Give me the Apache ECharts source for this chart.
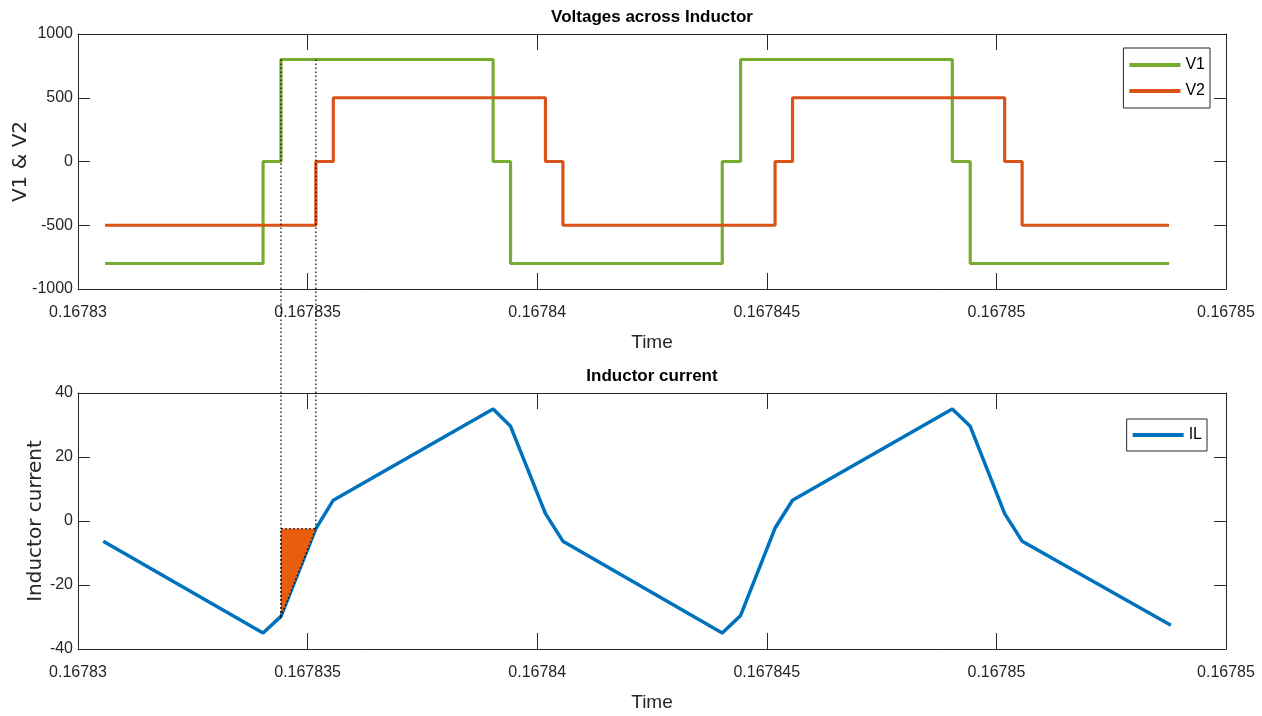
<!DOCTYPE html>
<html><head><meta charset="utf-8">
<script src="https://cdn.jsdelivr.net/npm/echarts@6/dist/echarts.min.js"></script>
<style>html,body{margin:0;padding:0;background:#fff}#c{width:1262px;height:716px}</style>
</head><body><div id="c"></div>
<script>
// Time axis values are microseconds after t0 = 0.16783 s
const xTickLabels = ['0.16783', '0.167835', '0.16784', '0.167845', '0.16785', '0.16785'];
const v1Time = [0.59, 4.03, 4.42, 9.04, 9.42, 14.03, 14.43, 19.04, 19.43, 23.76];
const v1Val  = [-800, 0, 800, 0, -800, 0, 800, 0, -800, -800];
const v2Time = [0.59, 5.18, 5.56, 10.18, 10.56, 15.18, 15.56, 20.18, 20.56, 23.76];
const v2Val  = [-500, 0, 500, 0, -500, 0, 500, 0, -500, -500];
const ilTime = [0.55, 4.03, 4.42, 5.18, 5.56, 9.04, 9.42, 10.18, 10.56, 14.03, 14.43, 15.18, 15.56, 19.04, 19.43, 20.18, 20.56, 23.8];
const ilVal  = [-6.3, -35, -29.8, -2.4, 6.5, 35, 29.6, 2.3, -6.3, -35, -29.5, -2.2, 6.5, 35, 29.6, 2.3, -6.3, -32.6];
// shaded area and dotted guide lines
const markTime = [4.42, 5.18];
const markV = 800;
const markIL = [-29.8, -2.4];
const triTime = [4.42, 4.42, 5.18];
const triVal = [-29.8, -2.4, -2.4];

const FONT = "'Liberation Sans', Arial, sans-serif";
const AXC = '#262626';
const zip = (a, b) => a.map((t, i) => [t, b[i]]);

function xAxes(gi, title) {
  const base = {
    type: 'value', gridIndex: gi, min: 0, max: 25, interval: 5,
    axisLine: { show: true, onZero: false, lineStyle: { color: AXC, width: 1 } },
    axisTick: { show: true, inside: true, length: 16, lineStyle: { color: AXC, width: 1 } },
    splitLine: { show: false }, nameMoveOverlap: false
  };
  return [
    Object.assign({}, base, {
      position: 'bottom',
      axisLabel: { margin: 16, color: AXC, fontFamily: FONT, fontSize: 16,
        formatter: v => xTickLabels[Math.round(v / 5)] },
      name: 'Time', nameLocation: 'middle', nameGap: 44,
      nameTextStyle: { fontFamily: FONT, fontSize: 19, color: AXC }
    }),
    Object.assign({}, base, {
      position: 'top', axisLabel: { show: false },
      name: title, nameLocation: 'middle', nameGap: 8,
      nameTextStyle: { fontFamily: FONT, fontSize: 17, fontWeight: 'bold', color: '#000' }
    })
  ];
}
function yAxes(gi, min, max, interval, name, gap) {
  const base = {
    type: 'value', gridIndex: gi, min: min, max: max, interval: interval,
    axisLine: { show: true, onZero: false, lineStyle: { color: AXC, width: 1 } },
    axisTick: { show: true, inside: true, length: 12, lineStyle: { color: AXC, width: 1 } },
    splitLine: { show: false }, nameMoveOverlap: false
  };
  return [
    Object.assign({}, base, {
      position: 'left',
      axisLabel: { margin: 5, color: AXC, fontFamily: FONT, fontSize: 16, formatter: v => String(v) },
      name: name, nameLocation: 'middle', nameGap: gap, nameRotate: 90,
      nameTextStyle: { fontFamily: "'DejaVu Sans', sans-serif", fontSize: 20, color: AXC }
    }),
    Object.assign({}, base, { position: 'right', axisLabel: { show: false } })
  ];
}

const chart = echarts.init(document.getElementById('c'), null, { renderer: 'canvas' });
const legendText = { fontFamily: FONT, fontSize: 16, color: '#000', lineHeight: 20 };
chart.setOption({
  animation: false,
  backgroundColor: '#fff',
  grid: [
    { left: 78, right: 36, top: 34, height: 255, containLabel: false, outerBoundsMode: 'none' },
    { left: 78, right: 36, top: 393, height: 256, containLabel: false, outerBoundsMode: 'none' }
  ],
  xAxis: xAxes(0, 'Voltages across Inductor').concat(xAxes(1, 'Inductor current')),
  yAxis: yAxes(0, -1000, 1000, 500, 'V1 & V2', 47).concat(yAxes(1, -40, 40, 20, 'Inductor current', 32)),
  legend: [
    { data: ['V1', 'V2'], orient: 'vertical', right: 52, top: 48, padding: [7, 5, 7, 6], itemGap: 6,
      itemWidth: 51, itemHeight: 4, icon: 'rect', borderColor: AXC, borderWidth: 1, borderRadius: 0,
      textStyle: legendText },
    { data: ['IL'], orient: 'vertical', right: 55, top: 419, padding: [6, 5, 6, 6],
      itemWidth: 51, itemHeight: 4, icon: 'rect', borderColor: AXC, borderWidth: 1, borderRadius: 0,
      textStyle: legendText }
  ],
  series: [
    { name: 'V1', type: 'line', xAxisIndex: 0, yAxisIndex: 0, step: 'end', data: zip(v1Time, v1Val),
      showSymbol: false, color: '#77AC30', lineStyle: { width: 3.2, color: '#77AC30' }, z: 3 },
    { name: 'V2', type: 'line', xAxisIndex: 0, yAxisIndex: 0, step: 'end', data: zip(v2Time, v2Val),
      showSymbol: false, color: '#D95319', lineStyle: { width: 3.2, color: '#D95319' }, z: 4 },
    { name: 'IL', type: 'line', xAxisIndex: 2, yAxisIndex: 2, data: zip(ilTime, ilVal),
      showSymbol: false, color: '#0072BD', lineStyle: { width: 3.5, color: '#0072BD' }, z: 3 },
    { name: 'area', type: 'custom', xAxisIndex: 2, yAxisIndex: 2, z: 6, silent: true, data: [[triTime[0], triVal[0]]],
      renderItem: (params, api) => {
        const pts = triTime.map((t, i) => api.coord([t, triVal[i]]));
        return { type: 'polygon', shape: { points: pts },
          style: { fill: '#E85D0C', stroke: '#000', lineWidth: 1.2, lineDash: [1.5, 2.5] } };
      } }
  ]
});

const graphics = markTime.map((t, i) => {
  const p0 = chart.convertToPixel({ xAxisIndex: 0, yAxisIndex: 0 }, [t, markV]);
  const p1 = chart.convertToPixel({ xAxisIndex: 2, yAxisIndex: 2 }, [t, markIL[i]]);
  return { type: 'line', z: 20, silent: true,
    shape: { x1: p0[0], y1: p0[1], x2: p1[0], y2: p1[1] },
    style: { stroke: '#000', lineWidth: 1.2, lineDash: [1.5, 2.5] } };
});
chart.setOption({ graphic: graphics });
</script>
</body></html>
